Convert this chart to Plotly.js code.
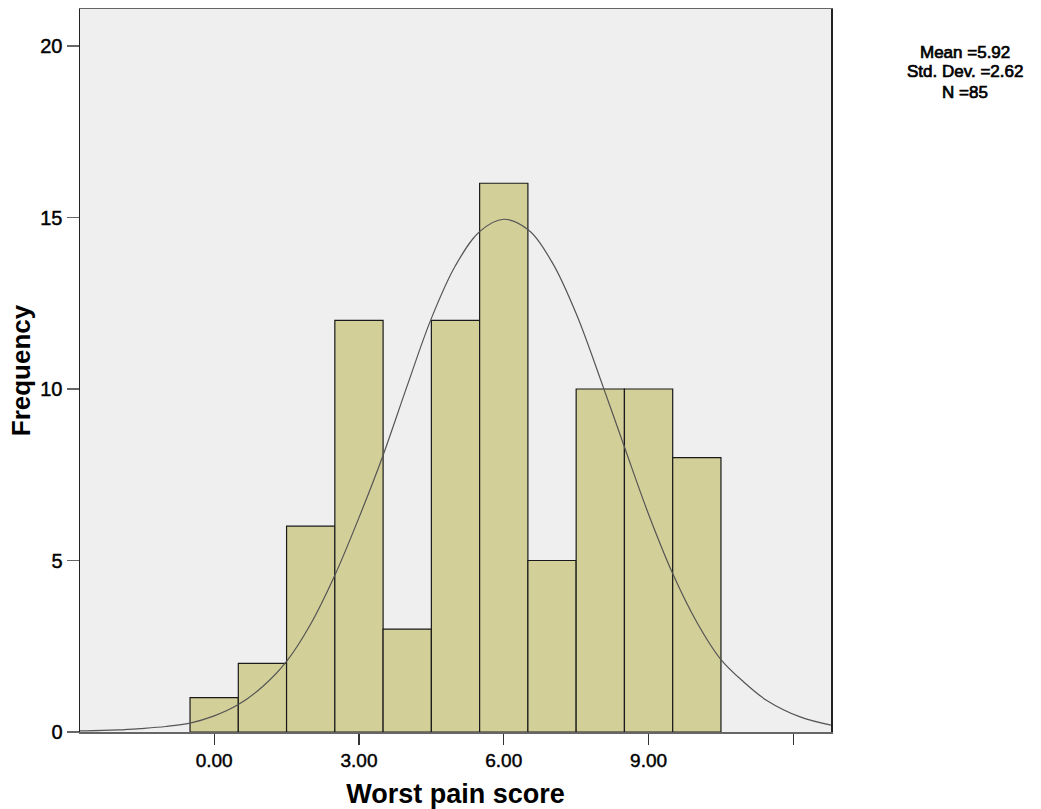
<!DOCTYPE html>
<html>
<head>
<meta charset="utf-8">
<script src="https://cdn.plot.ly/plotly-3.0.1.min.js"></script>
<style>
  html, body { margin: 0; padding: 0; background: #ffffff; }
  #chart { width: 1041px; height: 809px; }
  #chart .xtick text, #chart .ytick text {
    stroke: #000000; stroke-width: 0.45px;
  }
  #chart .annotation-text {
    stroke: #000000; stroke-width: 0.7px;
  }
</style>
</head>
<body>
<div id="chart"></div>
<script>
// Histogram bins (score values) and frequencies
const binCenters = [0, 1, 2, 3, 4, 5, 6, 7, 8, 9, 10];
const frequencies = [1, 2, 6, 12, 3, 12, 16, 5, 10, 10, 8];

// Normal curve points
const curveX = [-2.78, -2.0, -1.53, -1.0, -0.5, 0.0, 0.5, 1.0, 1.5, 2.0, 2.5, 3.0, 3.5, 4.0, 4.5, 5.0, 5.5, 6.0, 6.5, 7.0, 7.5, 8.07, 8.5, 9.0, 9.5, 10.0, 10.5, 10.97, 11.45, 12.14, 12.78];
const curveY = [0.03, 0.06, 0.10, 0.16, 0.26, 0.47, 0.80, 1.32, 2.06, 3.15, 4.57, 6.25, 8.07, 10.1, 12.06, 13.6, 14.59, 14.95, 14.65, 13.7, 12.2, 10.02, 8.31, 6.35, 4.62, 3.2, 2.11, 1.46, 0.92, 0.44, 0.2];

// Tick labels
const xTickVals = [0, 3, 6, 9, 12];
const xTickText = ['0.00', '3.00', '6.00', '9.00', ''];
const yTickVals = [0, 5, 10, 15, 20];

// Statistics box
const statLines = ['Mean =5.92', 'Std. Dev. =2.62', 'N =85'];

const font = 'Liberation Sans, Arial, Helvetica, sans-serif';

const traces = [
  {
    type: 'bar',
    x: binCenters,
    y: frequencies,
    width: 1,
    marker: { color: '#d3cf99', line: { color: '#1a1a1a', width: 1.2 } },
    hoverinfo: 'x+y',
    showlegend: false
  },
  {
    type: 'scatter',
    mode: 'lines',
    x: curveX,
    y: curveY,
    line: { color: '#555555', width: 1.2, shape: 'spline', smoothing: 1 },
    hoverinfo: 'skip',
    showlegend: false
  }
];

const statY = [0.9405, 0.9129, 0.8852];
const annotations = statLines.map((t, i) => ({
  text: t,
  xref: 'paper', yref: 'paper',
  x: 1.178, y: statY[i],
  xanchor: 'center', yanchor: 'middle',
  borderpad: 0,
  showarrow: false,
  font: { family: font, size: 17, color: '#000000' }
}));

const layout = {
  width: 1041,
  height: 809,
  margin: { l: 80, r: 210, t: 9, b: 77 },
  paper_bgcolor: '#ffffff',
  plot_bgcolor: '#efefef',
  bargap: 0,
  xaxis: {
    range: [-2.78, 12.78],
    tickmode: 'array',
    tickvals: xTickVals,
    ticktext: xTickText,
    ticks: 'outside',
    ticklen: 11,
    tickwidth: 1.2,
    tickcolor: '#333333',
    showgrid: false,
    zeroline: false,
    showline: true,
    linecolor: '#666666',
    linewidth: 1.5,
    mirror: true,
    tickfont: { family: font, size: 19, color: '#000000' },
    title: { text: '<b>Worst pain score</b>', font: { family: font, size: 27, color: '#000000' }, standoff: 18 }
  },
  yaxis: {
    range: [0, 21.08],
    tickmode: 'array',
    tickvals: yTickVals,
    ticks: 'outside',
    ticklen: 12,
    tickwidth: 1.2,
    tickcolor: '#666666',
    showgrid: false,
    zeroline: false,
    showline: true,
    linecolor: '#222222',
    linewidth: 1.5,
    mirror: true,
    tickfont: { family: font, size: 20, color: '#000000' },
    title: { text: '<b>Frequency</b>', font: { family: font, size: 26, color: '#000000' }, standoff: 2 }
  },
  annotations: annotations
};

Plotly.newPlot('chart', traces, layout, { displayModeBar: false, staticPlot: true });
</script>
</body>
</html>
